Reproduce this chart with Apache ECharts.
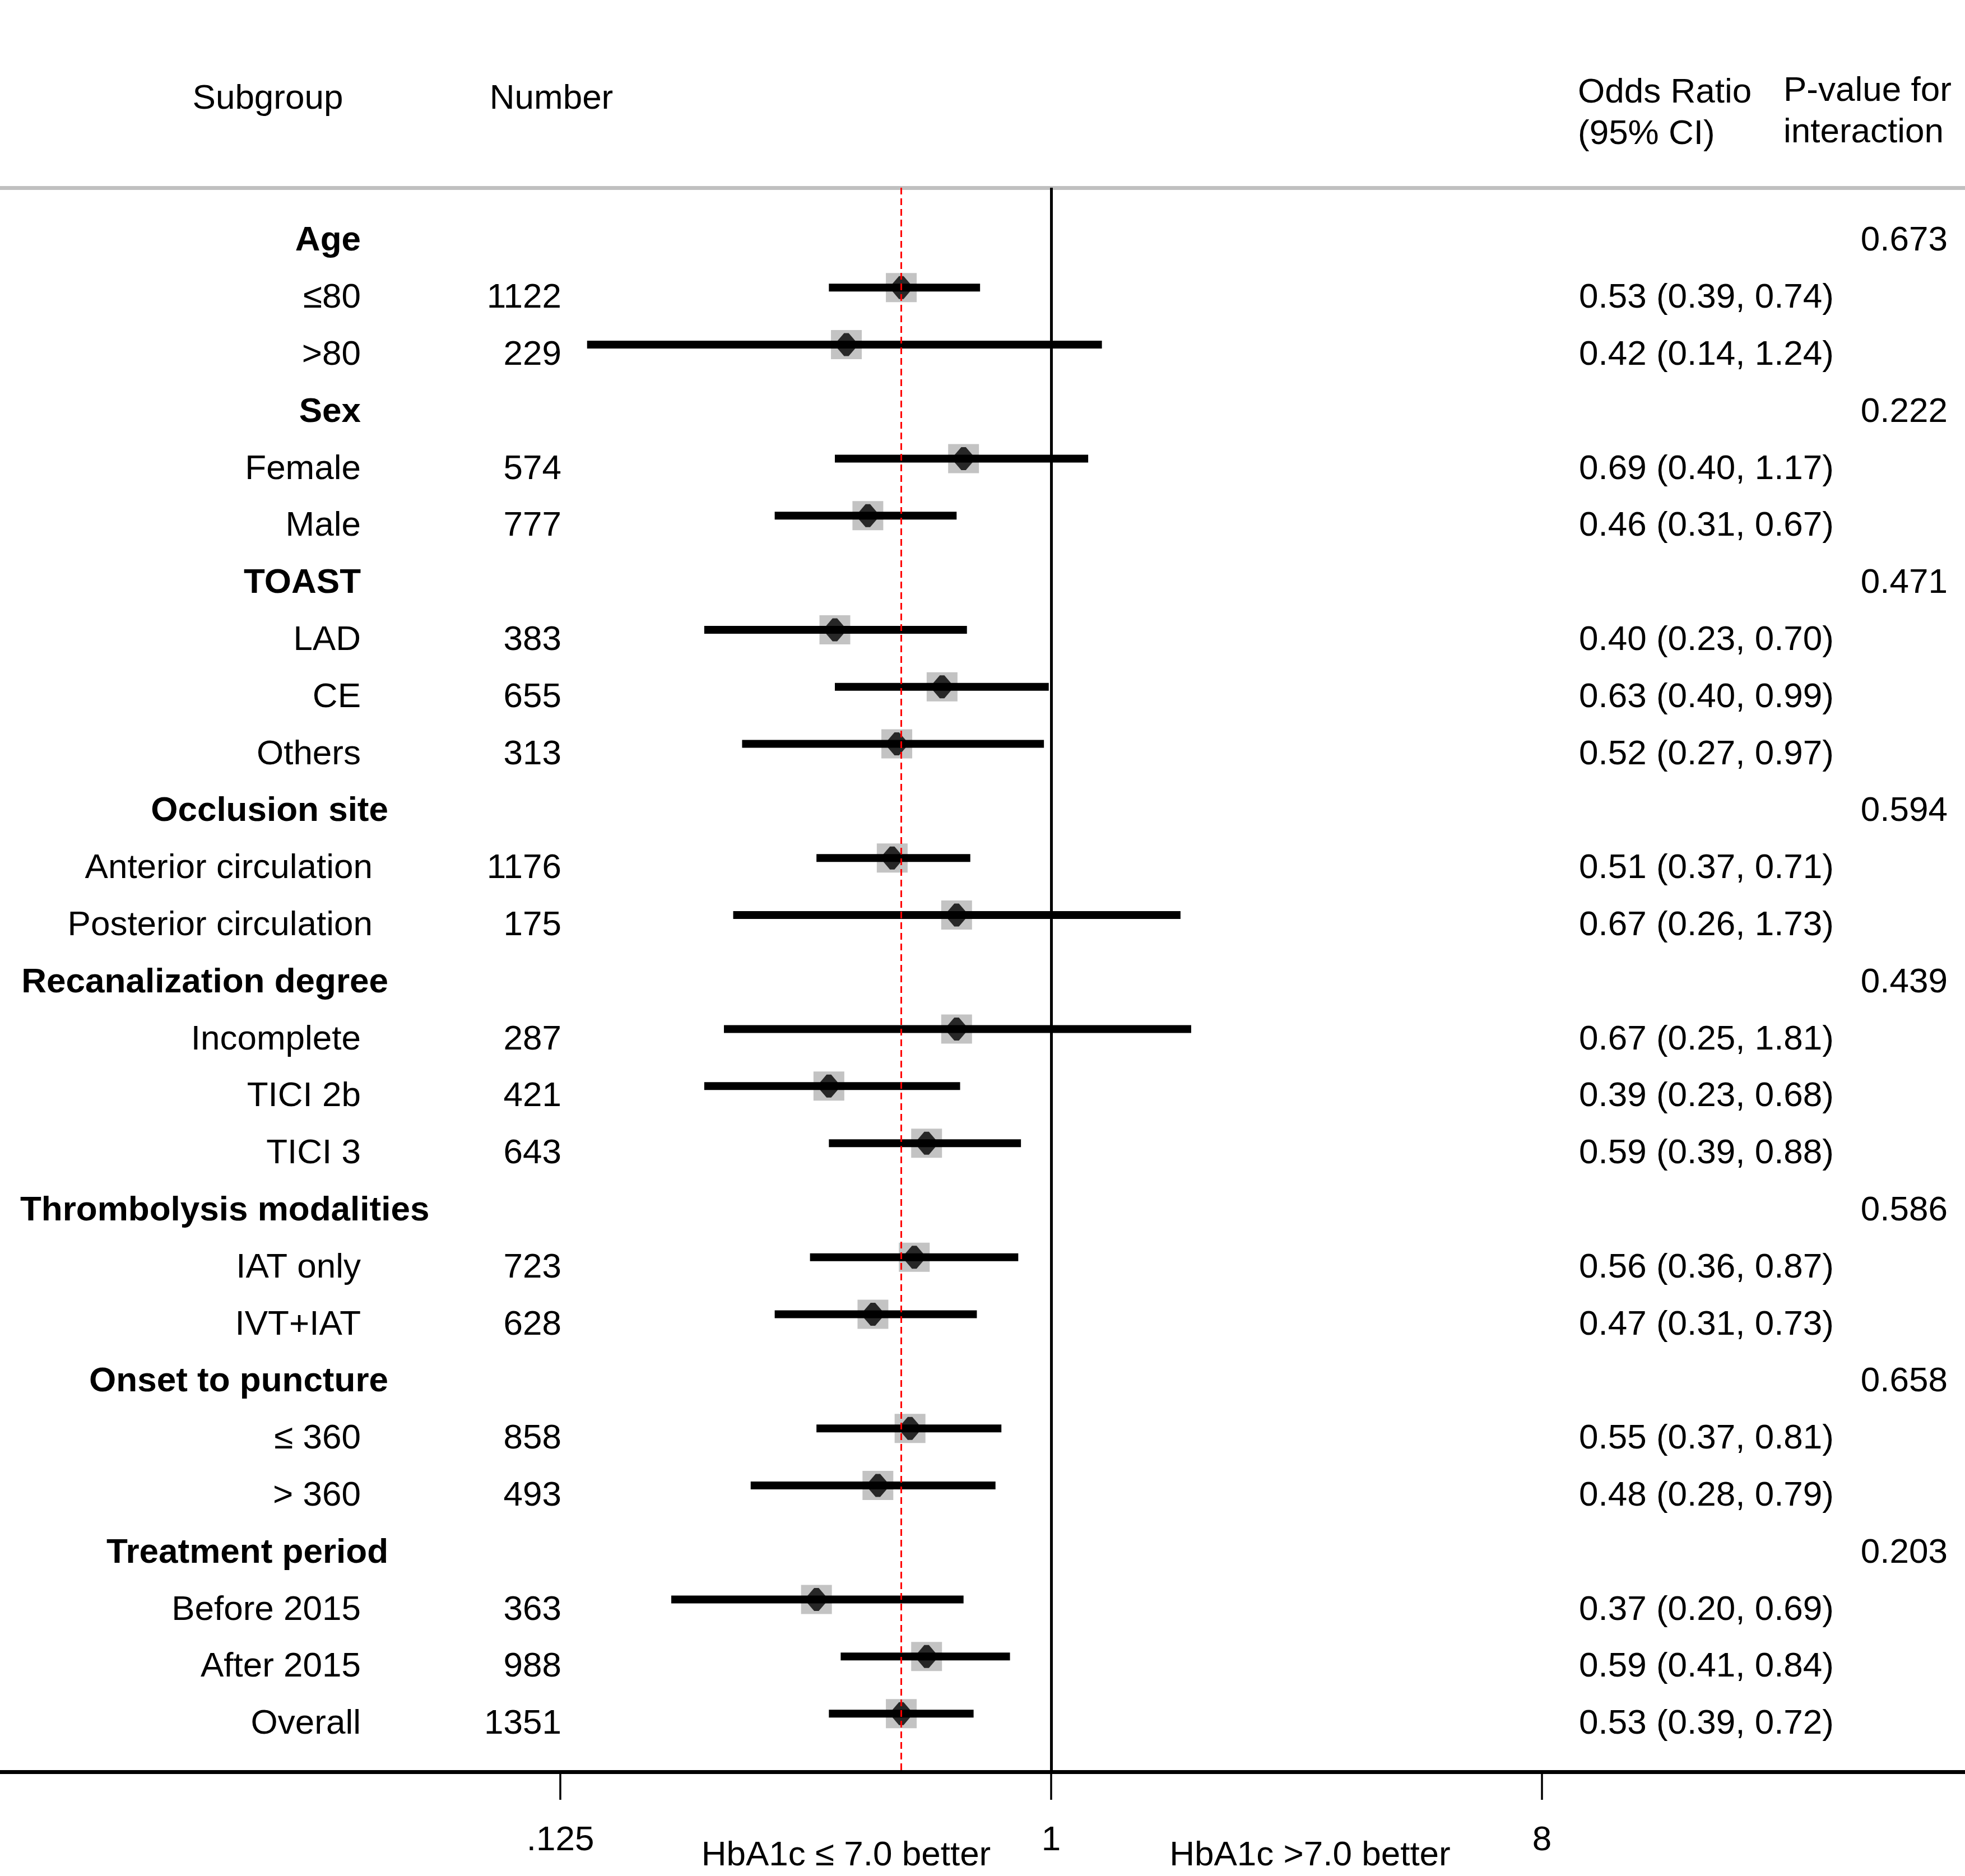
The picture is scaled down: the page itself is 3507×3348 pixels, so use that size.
<!DOCTYPE html>
<html><head><meta charset="utf-8">
<script src="https://cdn.jsdelivr.net/npm/echarts@6/dist/echarts.min.js"></script>
<style>html,body{margin:0;padding:0;background:#fff}#c{width:3507px;height:3348px}</style>
</head><body><div id="c"></div>
<script>
// ---------------- data ----------------
const subgroups = ['Age','≤80','>80','Sex','Female','Male','TOAST','LAD','CE','Others',
  'Occlusion site','Anterior circulation','Posterior circulation','Recanalization degree',
  'Incomplete','TICI 2b','TICI 3','Thrombolysis modalities','IAT only','IVT+IAT',
  'Onset to puncture','≤ 360','> 360','Treatment period','Before 2015','After 2015','Overall'];
const isHeader = [1,0,0,1,0,0,1,0,0,0,1,0,0,1,0,0,0,1,0,0,1,0,0,1,0,0,0];
const counts = ['',1122,229,'',574,777,'',383,655,313,'',1176,175,'',287,421,643,'',723,628,'',858,493,'',363,988,1351];
const oddsRatio = [null,0.53,0.42,null,0.69,0.46,null,0.40,0.63,0.52,null,0.51,0.67,null,0.67,0.39,0.59,null,0.56,0.47,null,0.55,0.48,null,0.37,0.59,0.53];
const ciLower  = [null,0.39,0.14,null,0.40,0.31,null,0.23,0.40,0.27,null,0.37,0.26,null,0.25,0.23,0.39,null,0.36,0.31,null,0.37,0.28,null,0.20,0.41,0.39];
const ciUpper  = [null,0.74,1.24,null,1.17,0.67,null,0.70,0.99,0.97,null,0.71,1.73,null,1.81,0.68,0.88,null,0.87,0.73,null,0.81,0.79,null,0.69,0.84,0.72];
const pInteraction = ['0.673','','','0.222','','','0.471','','','','0.594','','','0.439','','','','0.586','','','0.658','','','0.203','','',''];
const overallOR = 0.53;
const tickValues = [0.125, 1, 8];
const tickLabels = ['.125', '1', '8'];
const colHeaders = ['Subgroup', 'Number', 'Odds Ratio\n(95% CI)', 'P-value for\ninteraction'];
const favourLeft = 'HbA1c ≤ 7.0 better';
const favourRight = 'HbA1c >7.0 better';

// ---------------- layout / style ----------------
const FONT = '"Liberation Sans", Arial, Helvetica, sans-serif';
const FS = 62;
const W = 3507, TOP = 335, AXIS_Y = 3162;
const GH = AXIS_Y - TOP;
const Y_MIN = -0.75, Y_MAX = 27.02;
const X_MIN = Math.pow(2, -6.425), X_MAX = Math.pow(2, 5.586);
const TEXT_DY = 19;
const LABEL_RIGHT = 644, LABEL_MIN_LEFT = 36;

const ctx = document.createElement('canvas').getContext('2d');
function textWidth(t, bold) { ctx.font = (bold ? 'bold ' : '') + FS + 'px ' + FONT; return ctx.measureText(t).width; }
// label nudge rule (mimics the original's justification of long labels)
function labelShift(t, bold) {
  const w = textWidth(t, bold);
  let dx = bold ? (w > 300 ? 49 : 0) : (w > 450 ? 21 : 0);
  return Math.max(dx, LABEL_MIN_LEFT + w - LABEL_RIGHT);
}

function yAx(i) { return { gridIndex: i, type: 'value', inverse: true, min: Y_MIN, max: Y_MAX, show: false }; }
function hiddenX(i) { return { gridIndex: i, type: 'value', min: 0, max: 1, show: false }; }

const grids = [
  { left: 0, top: TOP, width: W, height: GH },          // 0 forest
  { left: 0, top: TOP, width: LABEL_RIGHT, height: GH }, // 1 subgroup labels
  { left: 0, top: TOP, width: 1002, height: GH },        // 2 numbers
  { left: 2818, top: TOP, width: 100, height: GH },      // 3 OR text
  { left: 0, top: TOP, width: 3476, height: GH }         // 4 p-values
];

const xAxes = [
  { gridIndex: 0, type: 'log', logBase: 2, min: X_MIN, max: X_MAX, position: 'bottom',
    axisLine: { show: true, onZero: false, lineStyle: { color: '#000', width: 7 } },
    axisTick: { show: true, inside: false, length: 50, lineStyle: { color: '#000', width: 3.5 }, customValues: tickValues },
    axisLabel: { show: true, customValues: tickValues, margin: 92, color: '#000', fontFamily: FONT, fontSize: FS,
      verticalAlign: 'top', lineHeight: FS,
      formatter: v => { const k = tickValues.findIndex(t => Math.abs(t - v) < 1e-9); return k >= 0 ? tickLabels[k] : ''; } },
    splitLine: { show: false }, minorTick: { show: false } },
  { gridIndex: 0, type: 'value', min: 0, max: 1, position: 'top',
    axisLine: { show: true, onZero: false, lineStyle: { color: '#c0c0c0', width: 7 } },
    axisTick: { show: false }, axisLabel: { show: false }, splitLine: { show: false } },
  hiddenX(1), hiddenX(2), hiddenX(3), hiddenX(4)
];
const yAxes = [yAx(0), yAx(1), yAx(2), yAx(3), yAx(4)];

const rows = subgroups.map((_, i) => i);
const estRows = rows.filter(i => oddsRatio[i] != null);

// text column drawn through each column's own axes
function textSeries(xIdx, gIdx, x, align, rowList, textOf, boldOf, shiftOf) {
  return {
    type: 'custom', xAxisIndex: xIdx, yAxisIndex: gIdx, silent: true, z: 5,
    encode: { x: 0, y: 1 },
    data: rowList.map(i => [x, i]),
    renderItem: (params, api) => {
      const r = api.value(1);
      const p = api.coord([api.value(0), r]);
      const bold = boldOf ? boldOf(r) : false;
      const dx = shiftOf ? shiftOf(r) : 0;
      return { type: 'text', silent: true,
        style: { text: textOf(r), x: p[0] + dx, y: p[1] + TEXT_DY, fill: '#000',
          font: (bold ? 'bold ' : '') + FS + 'px ' + FONT,
          align: align, verticalAlign: 'middle', textAlign: align, textVerticalAlign: 'middle' } };
    }
  };
}

const diamondPath = 'path://M-0.22,-1L0.22,-1L1,-0.18L1,0.18L0.22,1L-0.22,1L-1,0.18L-1,-0.18Z';

const series = [
  { // grey weight squares + reference line at 1
    type: 'scatter', xAxisIndex: 0, yAxisIndex: 0, z: 2, silent: true,
    symbol: 'rect', symbolSize: [55, 52], itemStyle: { color: '#b4b4b4' },
    data: estRows.map(i => [oddsRatio[i], i]),
    markLine: { silent: true, symbol: ['none', 'none'], label: { show: false },
      lineStyle: { color: '#000', width: 5, type: 'solid' }, data: [{ xAxis: 1 }], animation: false }
  },
  { // CI bars
    type: 'custom', xAxisIndex: 0, yAxisIndex: 0, z: 3, silent: true,
    encode: { x: [0, 1], y: 2 },
    data: estRows.map(i => [ciLower[i], ciUpper[i], i]),
    renderItem: (params, api) => {
      const a = api.coord([api.value(0), api.value(2)]);
      const b = api.coord([api.value(1), api.value(2)]);
      return { type: 'rect', shape: { x: a[0], y: a[1] - 7, width: b[0] - a[0], height: 14 }, style: { fill: '#000' } };
    }
  },
  { // point estimates
    type: 'scatter', xAxisIndex: 0, yAxisIndex: 0, z: 4, silent: true,
    symbol: diamondPath, symbolSize: [37, 41], itemStyle: { color: '#000' },
    data: estRows.map(i => [oddsRatio[i], i])
  },
  { // overall OR dashed line
    type: 'scatter', xAxisIndex: 0, yAxisIndex: 0, z: 6, silent: true, symbolSize: 0, data: [],
    markLine: { silent: true, symbol: ['none', 'none'], label: { show: false }, animation: false,
      lineStyle: { color: '#ff0000', width: 3, type: [12, 7] }, data: [{ xAxis: overallOR }] }
  },
  textSeries(2, 1, 1, 'right', rows, r => subgroups[r], r => !!isHeader[r], r => labelShift(subgroups[r], !!isHeader[r])),
  textSeries(3, 2, 1, 'right', rows.filter(i => counts[i] !== ''), r => String(counts[r])),
  textSeries(4, 3, 0, 'left', estRows,
    r => oddsRatio[r].toFixed(2) + ' (' + ciLower[r].toFixed(2) + ', ' + ciUpper[r].toFixed(2) + ')'),
  textSeries(5, 4, 1, 'right', rows.filter(i => pInteraction[i] !== ''), r => pInteraction[r])
];

const txt = (t, x, y, align) => ({ type: 'text', x: x, y: y, silent: true,
  style: { text: t, font: FS + 'px ' + FONT, fill: '#000', textAlign: align, textVerticalAlign: 'middle', lineHeight: 74 } });

const graphic = [
  txt(colHeaders[0], 478, 177, 'center'),
  txt(colHeaders[1], 984, 177, 'center'),
  txt(colHeaders[2], 2816, 203, 'left'),
  txt(colHeaders[3], 3183, 200, 'left'),
  txt(favourLeft, 1510, 3312, 'center'),
  txt(favourRight, 2338, 3312, 'center')
];

const chart = echarts.init(document.getElementById('c'), null, { renderer: 'canvas' });
chart.setOption({
  animation: false, backgroundColor: '#fff',
  grid: grids, xAxis: xAxes, yAxis: yAxes, series: series, graphic: graphic
});
</script></body></html>
